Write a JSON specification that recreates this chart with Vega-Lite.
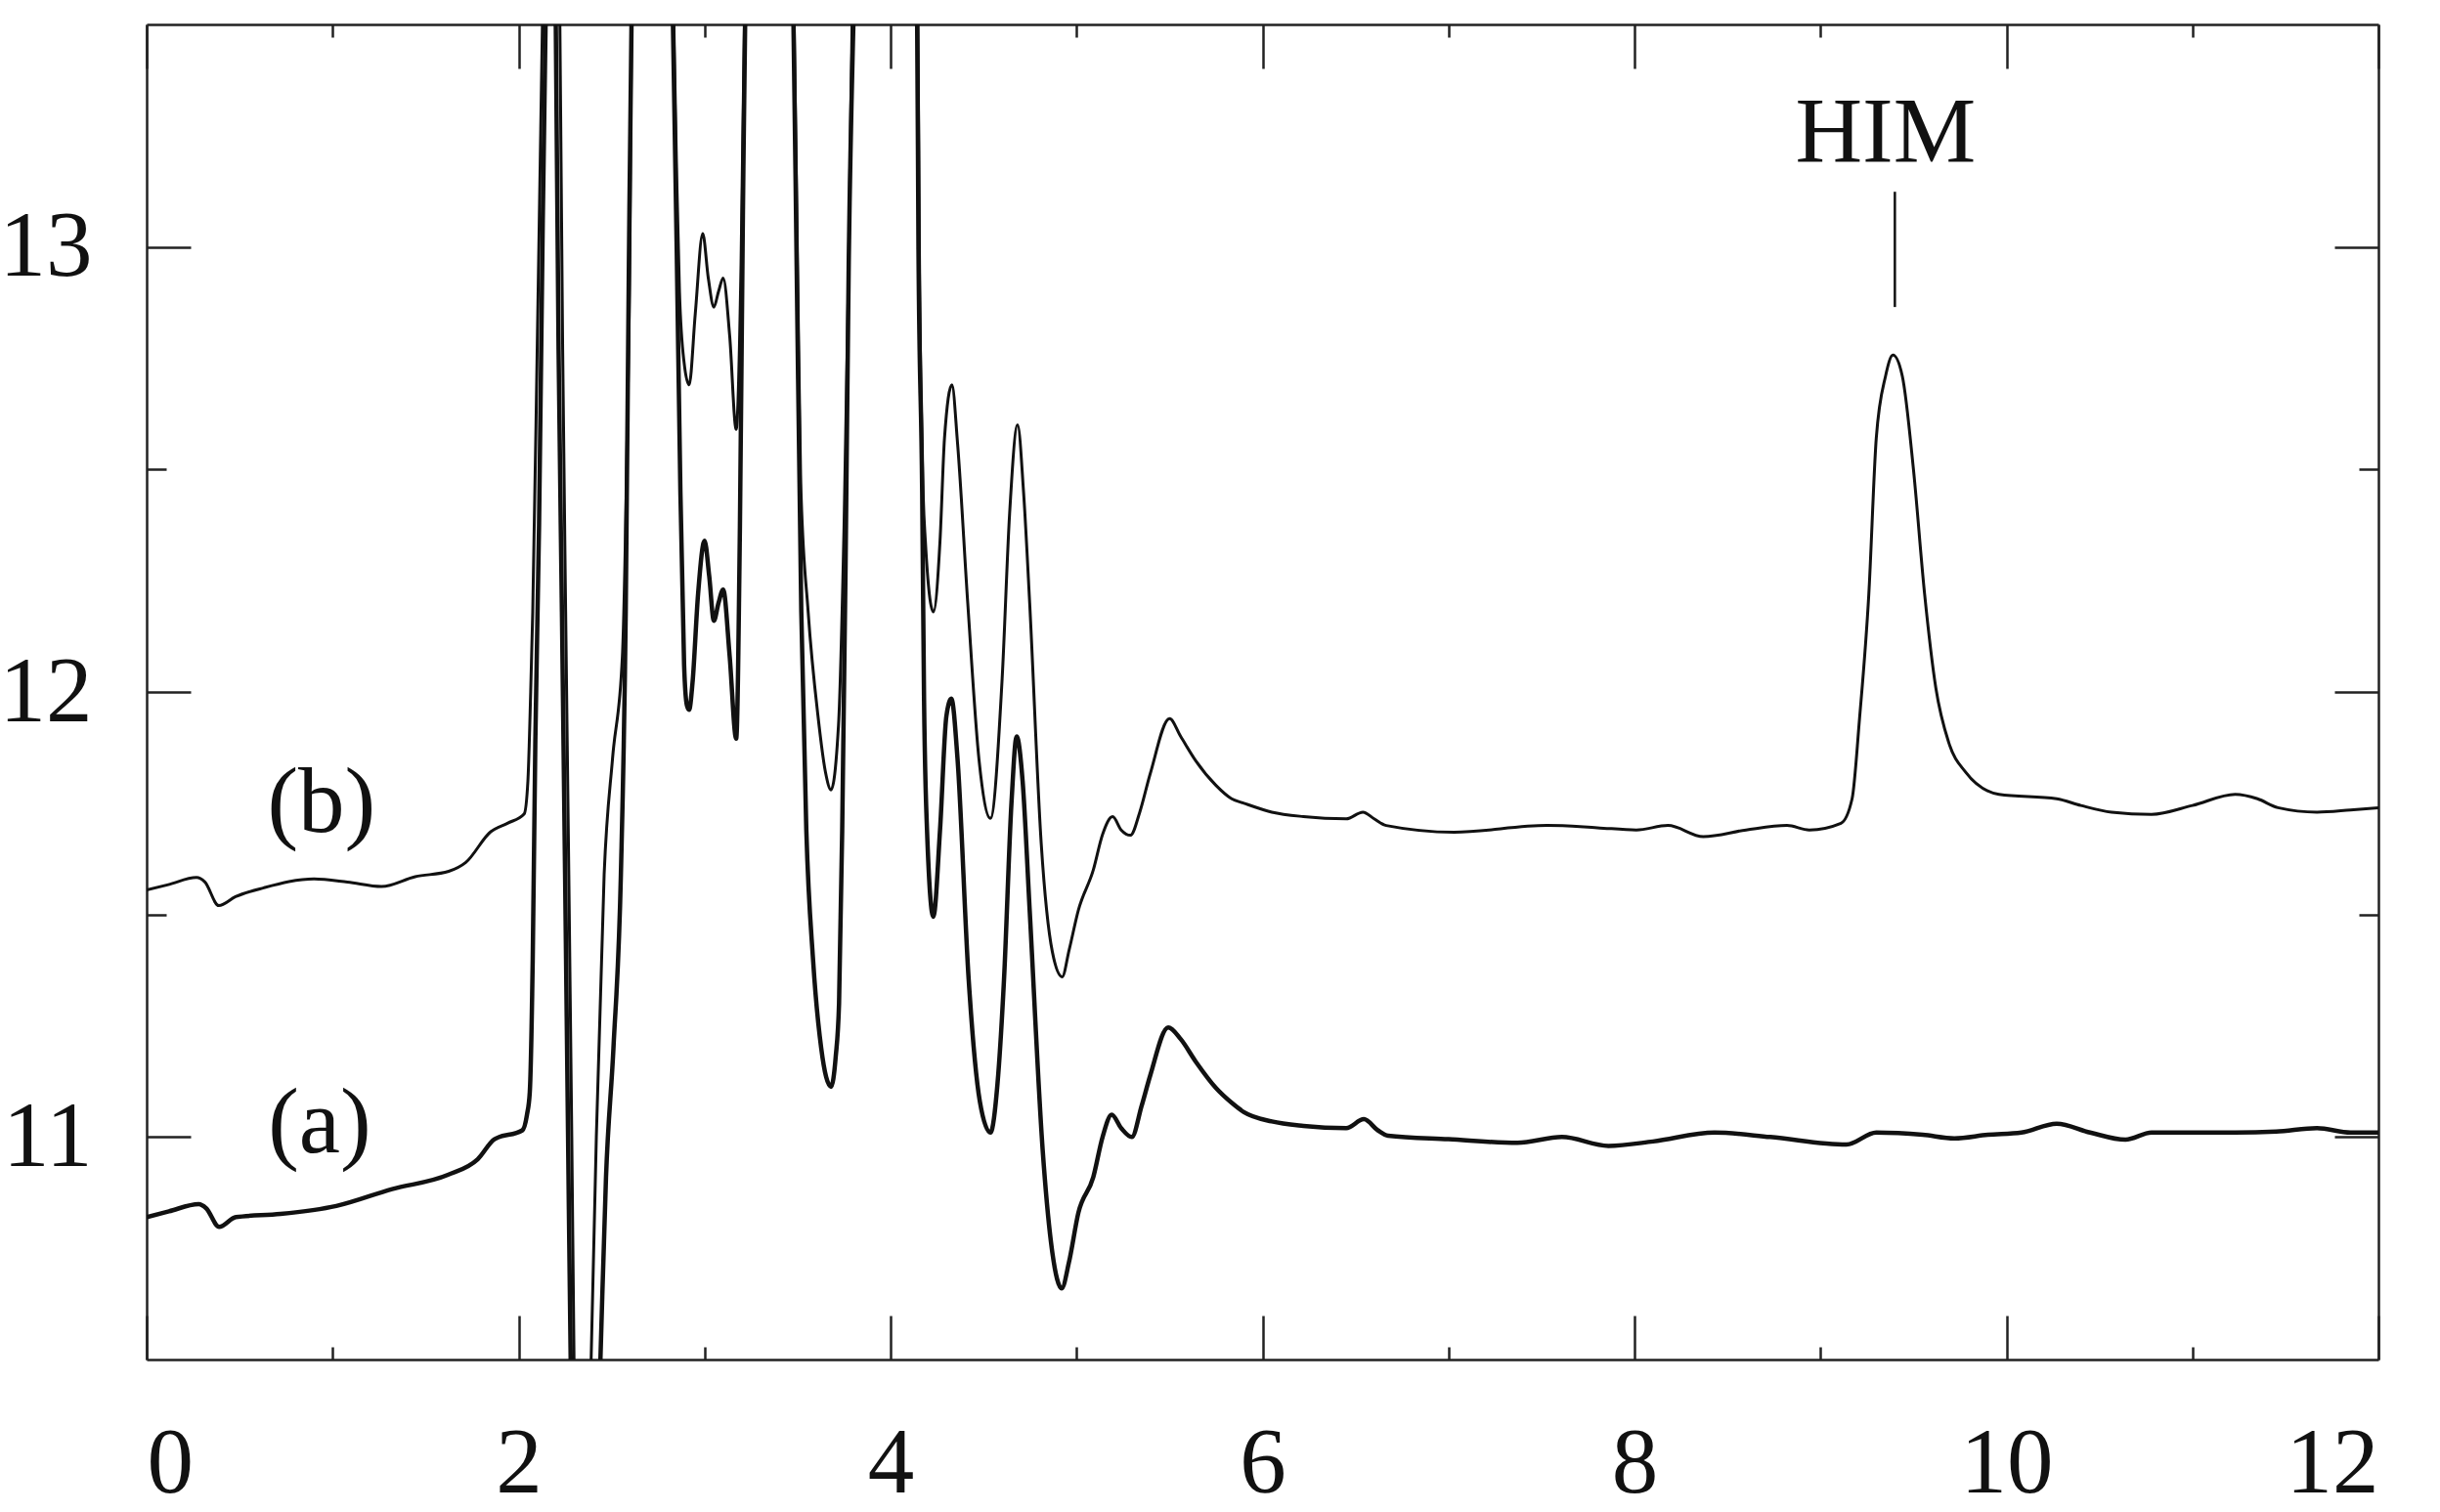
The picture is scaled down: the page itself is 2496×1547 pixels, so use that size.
{
  "$schema": "https://vega.github.io/schema/vega-lite/v6.json",
  "width": 2283,
  "height": 1366,
  "autosize": {"type": "none"},
  "padding": {"left": 150, "top": 25, "right": 63, "bottom": 156},
  "background": "white",
  "config": {
    "view": {"stroke": null},
    "axis": {
      "grid": false,
      "domainColor": "#222",
      "domainWidth": 2.5,
      "tickColor": "#222",
      "tickWidth": 2.5,
      "labelFont": "Liberation Serif",
      "labelFontSize": 95,
      "labelColor": "#111",
      "title": null
    }
  },
  "datasets": {
    "a": [
      {"x": 0.0, "y": 10.82}, {"x": 0.12, "y": 10.833}, {"x": 0.28, "y": 10.849}, {"x": 0.32, "y": 10.84},
      {"x": 0.39, "y": 10.798}, {"x": 0.48, "y": 10.82}, {"x": 0.72, "y": 10.827}, {"x": 1.02, "y": 10.845},
      {"x": 1.32, "y": 10.883}, {"x": 1.62, "y": 10.915}, {"x": 1.78, "y": 10.95}, {"x": 1.87, "y": 10.995},
      {"x": 2.02, "y": 11.015}, {"x": 2.045, "y": 11.05}, {"x": 2.06, "y": 11.1}, {"x": 2.076, "y": 11.4},
      {"x": 2.09, "y": 11.89}, {"x": 2.11, "y": 12.375}, {"x": 2.13, "y": 13.06}, {"x": 2.145, "y": 13.5},
      {"x": 2.172, "y": 14.6}, {"x": 2.2, "y": 13.5}, {"x": 2.215, "y": 12.77}, {"x": 2.233, "y": 12.18},
      {"x": 2.25, "y": 11.59}, {"x": 2.266, "y": 11.0}, {"x": 2.28, "y": 10.5}, {"x": 2.36, "y": 9.4},
      {"x": 2.44, "y": 10.5}, {"x": 2.47, "y": 10.91}, {"x": 2.51, "y": 11.2}, {"x": 2.55, "y": 11.59},
      {"x": 2.576, "y": 12.18}, {"x": 2.593, "y": 12.96}, {"x": 2.607, "y": 13.5}, {"x": 2.72, "y": 15.0},
      {"x": 2.83, "y": 13.5}, {"x": 2.85, "y": 13.0}, {"x": 2.87, "y": 12.45}, {"x": 2.89, "y": 12.06},
      {"x": 2.905, "y": 11.97}, {"x": 2.917, "y": 11.96}, {"x": 2.935, "y": 12.02}, {"x": 2.965, "y": 12.22},
      {"x": 3.0, "y": 12.34}, {"x": 3.025, "y": 12.26}, {"x": 3.05, "y": 12.16}, {"x": 3.075, "y": 12.2},
      {"x": 3.1, "y": 12.23}, {"x": 3.135, "y": 12.08}, {"x": 3.17, "y": 11.895}, {"x": 3.19, "y": 12.37},
      {"x": 3.206, "y": 13.07}, {"x": 3.218, "y": 13.5}, {"x": 3.35, "y": 15.0}, {"x": 3.478, "y": 13.5},
      {"x": 3.495, "y": 12.96}, {"x": 3.52, "y": 12.18}, {"x": 3.547, "y": 11.69}, {"x": 3.583, "y": 11.4},
      {"x": 3.627, "y": 11.2}, {"x": 3.68, "y": 11.113}, {"x": 3.705, "y": 11.18}, {"x": 3.723, "y": 11.3},
      {"x": 3.74, "y": 11.69}, {"x": 3.758, "y": 12.28}, {"x": 3.775, "y": 12.96}, {"x": 3.8, "y": 13.5},
      {"x": 3.97, "y": 15.0}, {"x": 4.143, "y": 13.5}, {"x": 4.15, "y": 13.0}, {"x": 4.17, "y": 12.45},
      {"x": 4.18, "y": 11.985}, {"x": 4.196, "y": 11.69}, {"x": 4.23, "y": 11.495}, {"x": 4.266, "y": 11.69},
      {"x": 4.3, "y": 11.945}, {"x": 4.327, "y": 11.985}, {"x": 4.36, "y": 11.85}, {"x": 4.42, "y": 11.354},
      {"x": 4.48, "y": 11.08}, {"x": 4.537, "y": 11.01}, {"x": 4.575, "y": 11.12}, {"x": 4.61, "y": 11.354},
      {"x": 4.65, "y": 11.75}, {"x": 4.678, "y": 11.9}, {"x": 4.71, "y": 11.8}, {"x": 4.748, "y": 11.51},
      {"x": 4.818, "y": 10.97}, {"x": 4.87, "y": 10.74}, {"x": 4.92, "y": 10.66}, {"x": 4.96, "y": 10.72},
      {"x": 5.01, "y": 10.83}, {"x": 5.09, "y": 10.91}, {"x": 5.14, "y": 11.0}, {"x": 5.189, "y": 11.05},
      {"x": 5.24, "y": 11.02}, {"x": 5.297, "y": 11.0}, {"x": 5.35, "y": 11.07}, {"x": 5.396, "y": 11.138},
      {"x": 5.493, "y": 11.246}, {"x": 5.56, "y": 11.22}, {"x": 5.64, "y": 11.17}, {"x": 5.75, "y": 11.11},
      {"x": 5.834, "y": 11.077}, {"x": 5.9, "y": 11.056}, {"x": 6.05, "y": 11.035}, {"x": 6.22, "y": 11.025},
      {"x": 6.45, "y": 11.02}, {"x": 6.545, "y": 11.04}, {"x": 6.62, "y": 11.015}, {"x": 6.675, "y": 11.003},
      {"x": 7.0, "y": 10.995}, {"x": 7.37, "y": 10.987}, {"x": 7.61, "y": 11.0}, {"x": 7.86, "y": 10.98},
      {"x": 8.1, "y": 10.99}, {"x": 8.43, "y": 11.01}, {"x": 8.73, "y": 11.0}, {"x": 9.14, "y": 10.983},
      {"x": 9.3, "y": 11.01}, {"x": 9.55, "y": 11.005}, {"x": 9.72, "y": 10.997}, {"x": 9.9, "y": 11.005},
      {"x": 10.08, "y": 11.01}, {"x": 10.27, "y": 11.03}, {"x": 10.45, "y": 11.01}, {"x": 10.64, "y": 10.994},
      {"x": 10.78, "y": 11.01}, {"x": 11.0, "y": 11.01}, {"x": 11.23, "y": 11.01}, {"x": 11.45, "y": 11.012},
      {"x": 11.67, "y": 11.02}, {"x": 11.85, "y": 11.01}, {"x": 12.0, "y": 11.01}
    ],
    "b": [
      {"x": 0.0, "y": 11.555}, {"x": 0.117, "y": 11.567}, {"x": 0.268, "y": 11.583}, {"x": 0.313, "y": 11.573},
      {"x": 0.388, "y": 11.52}, {"x": 0.478, "y": 11.54}, {"x": 0.63, "y": 11.56}, {"x": 0.9, "y": 11.58},
      {"x": 1.08, "y": 11.573}, {"x": 1.263, "y": 11.563}, {"x": 1.444, "y": 11.585}, {"x": 1.624, "y": 11.597},
      {"x": 1.716, "y": 11.617}, {"x": 1.85, "y": 11.686}, {"x": 1.94, "y": 11.705}, {"x": 2.03, "y": 11.726},
      {"x": 2.05, "y": 11.8}, {"x": 2.065, "y": 12.0}, {"x": 2.076, "y": 12.18}, {"x": 2.1, "y": 12.77},
      {"x": 2.115, "y": 13.16}, {"x": 2.128, "y": 13.5}, {"x": 2.17, "y": 14.8}, {"x": 2.222, "y": 13.5},
      {"x": 2.237, "y": 12.77}, {"x": 2.253, "y": 12.18}, {"x": 2.27, "y": 11.59}, {"x": 2.286, "y": 11.0},
      {"x": 2.298, "y": 10.5}, {"x": 2.345, "y": 9.6}, {"x": 2.39, "y": 10.5}, {"x": 2.418, "y": 11.0},
      {"x": 2.46, "y": 11.59}, {"x": 2.505, "y": 11.85}, {"x": 2.558, "y": 12.08}, {"x": 2.584, "y": 12.58},
      {"x": 2.6, "y": 13.06}, {"x": 2.607, "y": 13.5}, {"x": 2.72, "y": 15.0}, {"x": 2.835, "y": 13.5},
      {"x": 2.85, "y": 13.16}, {"x": 2.865, "y": 12.9}, {"x": 2.89, "y": 12.74}, {"x": 2.917, "y": 12.69},
      {"x": 2.95, "y": 12.85}, {"x": 2.99, "y": 13.03}, {"x": 3.02, "y": 12.93}, {"x": 3.05, "y": 12.865},
      {"x": 3.075, "y": 12.9}, {"x": 3.1, "y": 12.93}, {"x": 3.135, "y": 12.8}, {"x": 3.17, "y": 12.59},
      {"x": 3.196, "y": 12.96}, {"x": 3.214, "y": 13.5}, {"x": 3.35, "y": 15.0}, {"x": 3.482, "y": 13.5},
      {"x": 3.5, "y": 12.96}, {"x": 3.517, "y": 12.47}, {"x": 3.557, "y": 12.18}, {"x": 3.61, "y": 11.945},
      {"x": 3.65, "y": 11.82}, {"x": 3.68, "y": 11.78}, {"x": 3.72, "y": 11.925}, {"x": 3.75, "y": 12.375},
      {"x": 3.775, "y": 12.96}, {"x": 3.793, "y": 13.5}, {"x": 3.97, "y": 15.0}, {"x": 4.147, "y": 13.5},
      {"x": 4.155, "y": 13.0}, {"x": 4.175, "y": 12.45}, {"x": 4.187, "y": 12.34}, {"x": 4.23, "y": 12.18},
      {"x": 4.266, "y": 12.34}, {"x": 4.29, "y": 12.57}, {"x": 4.33, "y": 12.69}, {"x": 4.36, "y": 12.56},
      {"x": 4.415, "y": 12.2}, {"x": 4.476, "y": 11.846}, {"x": 4.537, "y": 11.716}, {"x": 4.6, "y": 12.03},
      {"x": 4.64, "y": 12.4}, {"x": 4.683, "y": 12.6}, {"x": 4.715, "y": 12.45}, {"x": 4.748, "y": 12.2},
      {"x": 4.81, "y": 11.66}, {"x": 4.87, "y": 11.416}, {"x": 4.923, "y": 11.36}, {"x": 4.96, "y": 11.42},
      {"x": 5.01, "y": 11.51}, {"x": 5.09, "y": 11.6}, {"x": 5.14, "y": 11.68}, {"x": 5.194, "y": 11.72},
      {"x": 5.24, "y": 11.69}, {"x": 5.29, "y": 11.678}, {"x": 5.34, "y": 11.73}, {"x": 5.396, "y": 11.816},
      {"x": 5.5, "y": 11.94}, {"x": 5.56, "y": 11.9}, {"x": 5.64, "y": 11.846}, {"x": 5.75, "y": 11.79},
      {"x": 5.834, "y": 11.76}, {"x": 5.9, "y": 11.75}, {"x": 6.05, "y": 11.73}, {"x": 6.22, "y": 11.72},
      {"x": 6.45, "y": 11.715}, {"x": 6.54, "y": 11.73}, {"x": 6.6, "y": 11.715}, {"x": 6.665, "y": 11.7},
      {"x": 7.03, "y": 11.685}, {"x": 7.53, "y": 11.7}, {"x": 7.8, "y": 11.695}, {"x": 8.01, "y": 11.69},
      {"x": 8.18, "y": 11.7}, {"x": 8.37, "y": 11.675}, {"x": 8.6, "y": 11.69}, {"x": 8.82, "y": 11.7},
      {"x": 8.94, "y": 11.69}, {"x": 9.11, "y": 11.705}, {"x": 9.17, "y": 11.76}, {"x": 9.21, "y": 11.94},
      {"x": 9.26, "y": 12.22}, {"x": 9.3, "y": 12.57}, {"x": 9.35, "y": 12.71}, {"x": 9.39, "y": 12.757},
      {"x": 9.44, "y": 12.71}, {"x": 9.5, "y": 12.5}, {"x": 9.56, "y": 12.22}, {"x": 9.62, "y": 12.01},
      {"x": 9.69, "y": 11.886}, {"x": 9.78, "y": 11.82}, {"x": 9.96, "y": 11.77}, {"x": 10.27, "y": 11.76},
      {"x": 10.4, "y": 11.745}, {"x": 10.565, "y": 11.73}, {"x": 10.78, "y": 11.725}, {"x": 11.0, "y": 11.745},
      {"x": 11.23, "y": 11.77}, {"x": 11.35, "y": 11.76}, {"x": 11.46, "y": 11.74}, {"x": 11.67, "y": 11.73},
      {"x": 11.85, "y": 11.735}, {"x": 12.0, "y": 11.74}
    ],
    "him": [{"x": 9.4, "y": 12.865, "y2": 13.124}],
    "labels": [
      {"t": "(a)", "x": 0.93, "y": 10.965},
      {"t": "(b)", "x": 0.94, "y": 11.686},
      {"t": "HIM", "x": 9.35, "y": 13.19}
    ]
  },
  "layer": [
    {
      "data": {"name": "a"},
      "mark": {"type": "line", "clip": true, "interpolate": "monotone", "strokeWidth": 4.5, "color": "#111"},
      "encoding": {
        "x": {
          "field": "x", "type": "quantitative",
          "scale": {"domain": [0, 12], "nice": false, "zero": false},
          "axis": {
            "orient": "bottom",
            "values": [0, 2, 4, 6, 8, 10, 12],
            "tickSize": -45,
            "labelPadding": 105
          }
        },
        "y": {
          "field": "y", "type": "quantitative",
          "scale": {"domain": [10.5, 13.5], "nice": false, "zero": false},
          "axis": {
            "orient": "left",
            "values": [11, 12, 13],
            "tickSize": -45,
            "labelPadding": 101
          }
        }
      }
    },
    {
      "data": {"name": "him"},
      "mark": {"type": "rule", "strokeWidth": 2.5, "color": "#111"},
      "encoding": {
        "x": {
          "field": "x", "type": "quantitative",
          "scale": {"domain": [0, 12], "nice": false, "zero": false},
          "axis": {
            "orient": "top",
            "values": [0, 2, 4, 6, 8, 10, 12],
            "tickSize": -45,
            "labels": false
          }
        },
        "y": {
          "field": "y", "type": "quantitative",
          "scale": {"domain": [10.5, 13.5], "nice": false, "zero": false},
          "axis": {
            "orient": "right",
            "values": [11, 12, 13],
            "tickSize": -45,
            "labels": false
          }
        },
        "y2": {"field": "y2"}
      }
    },
    {
      "data": {"name": "b"},
      "mark": {"type": "line", "clip": true, "interpolate": "monotone", "strokeWidth": 3, "color": "#111"},
      "encoding": {
        "x": {
          "field": "x", "type": "quantitative",
          "axis": {
            "orient": "bottom",
            "values": [1, 3, 5, 7, 9, 11],
            "tickSize": -13,
            "labels": false,
            "domain": false
          }
        },
        "y": {
          "field": "y", "type": "quantitative",
          "axis": {
            "orient": "left",
            "values": [11.5, 12.5],
            "tickSize": -20,
            "labels": false,
            "domain": false
          }
        }
      }
    },
    {
      "data": {"name": "labels"},
      "mark": {"type": "text", "font": "Liberation Serif", "fontSize": 95, "align": "center", "baseline": "alphabetic", "color": "#111"},
      "encoding": {
        "x": {
          "field": "x", "type": "quantitative",
          "axis": {
            "orient": "top",
            "values": [1, 3, 5, 7, 9, 11],
            "tickSize": -13,
            "labels": false,
            "domain": false
          }
        },
        "y": {
          "field": "y", "type": "quantitative",
          "axis": {
            "orient": "right",
            "values": [11.5, 12.5],
            "tickSize": -20,
            "labels": false,
            "domain": false
          }
        },
        "text": {"field": "t"}
      }
    }
  ],
  "resolve": {"axis": {"x": "independent", "y": "independent"}}
}
